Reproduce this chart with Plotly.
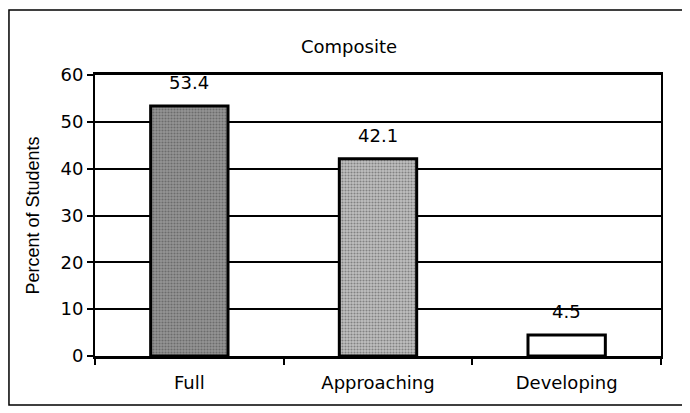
import plotly.graph_objects as go

# datos del grafico
categorias = ['Full', 'Approaching', 'Developing']
porcentajes = [53.4, 42.1, 4.5]
etiquetas = ['53.4', '42.1', '4.5']
colores = ['#959595', '#c0c0c0', '#ffffff']

fig = go.Figure()

fig.add_trace(go.Bar(
    x=categorias, y=porcentajes,
    marker=dict(color=colores, line=dict(color='black', width=3),
                pattern=dict(shape=['.', '.', ''], fgcolor='#222222', size=3, solidity=0.4)),
    width=0.41,
))

# etiquetas de valores sobre las barras
for cat, val, txt in zip(categorias, porcentajes, etiquetas):
    fig.add_annotation(x=cat, y=val, text=txt, showarrow=False,
                       yanchor='middle', yshift=23, font=dict(size=18, color='black'))

# la pagina tiene 8px de margen en el body, se compensa aqui
fig.update_layout(
    width=682, height=405,
    margin=dict(l=87, r=29, t=67, b=57),
    paper_bgcolor='white', plot_bgcolor='white',
    font=dict(family='DejaVu Sans, Arial, sans-serif', size=18, color='black'),
    title=dict(text='Composite', x=0.5, xanchor='center', y=1 - 39 / 405, yanchor='middle',
               font=dict(size=18)),
    showlegend=False,
)

fig.update_yaxes(range=[0, 60], dtick=10, showgrid=True, gridcolor='black', gridwidth=1.5,
                 showline=True, linecolor='black', linewidth=2, mirror=True,
                 ticks='outside', ticklen=6, tickcolor='black', tickwidth=1.5,
                 title=dict(text='Percent of Students', standoff=16,
                            font=dict(family='Liberation Sans, Arial, sans-serif', size=18)),
                 zeroline=False)
fig.update_xaxes(showline=True, linecolor='black', linewidth=2.5, mirror=True,
                 ticks='outside', ticklen=6, tickcolor='black', tickwidth=1.5,
                 tickson='boundaries', ticklabelstandoff=9)

# marco exterior
fig.add_shape(type='rect', xref='paper', yref='paper',
              x0=-0.152, x1=1.039, y0=-0.174, y1=1.231,
              line=dict(color='black', width=1.5), layer='below')

fig.write_html('out.html')
